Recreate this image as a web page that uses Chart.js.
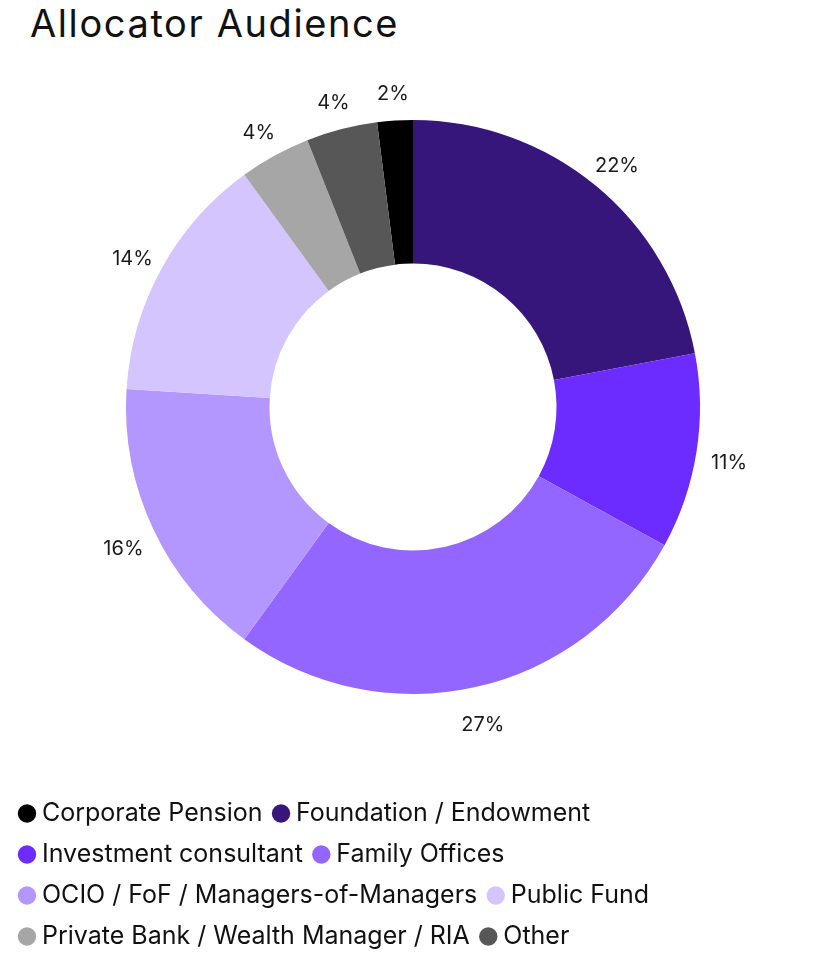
<!DOCTYPE html>
<html>
<head>
<meta charset="utf-8">
<script src="https://cdn.jsdelivr.net/npm/chart.js@4/dist/chart.umd.min.js"></script>
<style>
  html, body { margin: 0; padding: 0; background: #fff; }
  .wrap { position: relative; width: 819px; height: 963px; }
  h1 {
    position: absolute; left: 30px; top: 4px; margin: 0;
    font: 400 38px Inter, sans-serif; line-height: 38px; letter-spacing: 1.6px; color: #111;
  }
  canvas { position: absolute; left: 0; top: 0; }
</style>
</head>
<body>
<div class="wrap">
  <h1>Allocator Audience</h1>
  <canvas id="chart-audience" width="819" height="963"></canvas>
</div>
<script>
// legend order; the pie starts with Corporate Pension just left of 12 o'clock
const labels = [
    'Corporate Pension',
    'Foundation / Endowment',
    'Investment consultant',
    'Family Offices',
    'OCIO / FoF / Managers-of-Managers',
    'Public Fund',
    'Private Bank / Wealth Manager / RIA',
    'Other'
];
const shares = [2, 22, 11, 27, 16, 14, 4, 4];
const colors = ['#000000', '#36167a', '#6c2cff', '#9366ff', '#b397ff', '#d4c4ff', '#a6a6a6', '#575757'];

const total = shares.reduce((a, b) => a + b, 0);

// percent labels outside the ring
const outsideLabels = {
    id: 'outsideLabels',
    afterDatasetsDraw(chart, args, opts) {
        const ctx = chart.ctx;
        const meta = chart.getDatasetMeta(0);
        ctx.save();
        ctx.font = opts.font;
        ctx.fillStyle = opts.color;
        ctx.textAlign = 'center';
        ctx.textBaseline = 'middle';
        meta.data.forEach((arc, i) => {
            const p = arc.getProps(['x', 'y', 'startAngle', 'endAngle', 'outerRadius'], true);
            const mid = (p.startAngle + p.endAngle) / 2;
            const r = p.outerRadius + opts.offset;
            ctx.fillText(shares[i] + '%', p.x + Math.cos(mid) * r, p.y + Math.sin(mid) * r + opts.shiftY);
        });
        ctx.restore();
    }
};

const ctx = document.getElementById('chart-audience');
new Chart(ctx, {
    type: 'doughnut',
    data: {
        labels: labels,
        datasets: [{
            data: shares,
            backgroundColor: colors,
            borderWidth: 0,
            radius: 287,
            cutout: '50%',
            rotation: -(shares[0] / total) * 360
        }]
    },
    options: {
        responsive: false,
        animation: false,
        events: [],
        layout: { padding: { top: 29, left: 8.5, right: 1.5, bottom: 4 } },
        plugins: {
            title: { display: false },
            tooltip: { enabled: false },
            legend: {
                position: 'bottom',
                align: 'start',
                labels: {
                    usePointStyle: true,
                    pointStyle: 'circle',
                    boxWidth: 5,
                    boxHeight: 13,
                    padding: 16,
                    color: '#111',
                    font: { family: 'Inter', size: 25 }
                }
            },
            outsideLabels: { font: '400 20px Inter', color: '#1a1a1a', offset: 33, shiftY: 6 }
        }
    },
    plugins: [outsideLabels]
});
</script>
</body>
</html>
